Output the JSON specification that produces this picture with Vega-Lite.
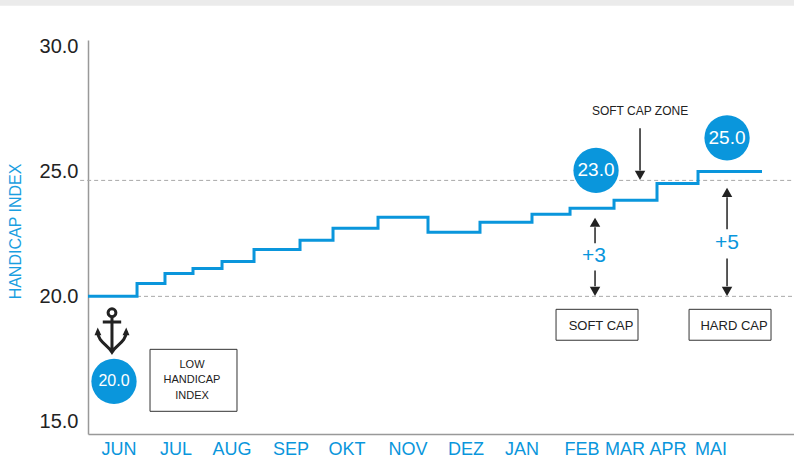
{"$schema":"https://vega.github.io/schema/vega-lite/v6.json","width":706,"height":394,"autosize":{"type":"none"},"padding":{"left":88,"top":40,"right":0,"bottom":26},"background":"white","config":{"view":{"stroke":null},"text":{"font":"Liberation Sans"}},
"datasets":{
"steps":[{"t":0,"v":20},{"t":0.875,"v":20.52},{"t":1.374,"v":20.92},{"t":1.874,"v":21.12},{"t":2.392,"v":21.4},{"t":2.963,"v":21.88},{"t":3.784,"v":22.25},{"t":4.373,"v":22.73},{"t":5.176,"v":23.17},{"t":6.068,"v":22.57},{"t":6.996,"v":22.97},{"t":7.924,"v":23.29},{"t":8.603,"v":23.53},{"t":9.388,"v":23.85},{"t":10.155,"v":24.53},{"t":10.887,"v":25.01},{"t":12.029,"v":25.01}],
"months":[{"t":0.553,"v":13.83,"m":"JUN"},{"t":1.571,"v":13.83,"m":"JUL"},{"t":2.57,"v":13.83,"m":"AUG"},{"t":3.623,"v":13.83,"m":"SEP"},{"t":4.622,"v":13.83,"m":"OKT"},{"t":5.711,"v":13.83,"m":"NOV"},{"t":6.746,"v":13.83,"m":"DEZ"},{"t":7.746,"v":13.83,"m":"JAN"},{"t":8.817,"v":13.83,"m":"FEB"},{"t":9.584,"v":13.83,"m":"MAR"},{"t":10.352,"v":13.83,"m":"APR"},{"t":11.119,"v":13.83,"m":"MAI"}],
"boxes":[{"a":1.107,"b":2.659,"lo":15.39,"hi":17.875},{"a":8.353,"b":9.816,"lo":18.24,"hi":19.48},{"a":10.727,"b":12.19,"lo":18.24,"hi":19.48}],
"badges":[{"t":0.464,"v":16.59,"s":"20.0"},{"t":9.067,"v":25.05,"s":"23.0"},{"t":11.405,"v":26.355,"s":"25.0"}],
"deltas":[{"t":9.03,"v":21.6,"s":"+3"},{"t":11.405,"v":22.125,"s":"+5"}],
"stems":[{"t":9.852,"a":26.74,"b":25.05},{"t":9.049,"a":22.125,"b":22.77},{"t":9.049,"a":21.04,"b":20.4},{"t":11.405,"a":22.69,"b":23.97},{"t":11.405,"a":21.52,"b":20.4}],
"heads":[{"t":9.852,"v":24.85,"d":"down"},{"t":9.049,"v":22.97,"d":"up"},{"t":9.049,"v":20.2,"d":"down"},{"t":11.405,"v":24.17,"d":"up"},{"t":11.405,"v":20.2,"d":"down"}]
},
"data":{"name":"steps"},
"encoding":{
"x":{"field":"t","type":"quantitative","scale":{"domain":[0,12.6],"nice":false,"zero":false},"axis":{"labels":false,"ticks":false,"grid":false,"title":null,"domainColor":"#999999","domainWidth":1.5}},
"y":{"field":"v","type":"quantitative","scale":{"domain":[14.48,30.28],"nice":false,"zero":false},"axis":{"values":[15,20,25,30],"format":".1f","ticks":false,"grid":false,"title":"HANDICAP INDEX","titleFont":"Liberation Sans","titleFontSize":16,"titleFontWeight":"normal","titleColor":"#1a9ee0","titleX":-65,"titleY":191,"labelFont":"Liberation Sans","labelFontSize":20,"labelColor":"#222222","labelPadding":10,"domainColor":"#999999","domainWidth":1.5}}
},
"layer":[
{"data":{"values":[{"a":-1.6,"b":12.6,"lo":31.65,"hi":31.95}]},"mark":{"type":"rect","fill":"#ebebeb"},"encoding":{"x":{"field":"a","type":"quantitative"},"x2":{"field":"b"},"y":{"field":"lo","type":"quantitative"},"y2":{"field":"hi"}}},
{"data":{"values":[{"v":24.65,"a":-0.14,"b":12.6},{"v":20,"a":0,"b":12.6}]},"mark":{"type":"rule","color":"#a8a8a8","strokeWidth":1,"strokeDash":[4,3]},"encoding":{"x":{"field":"a","type":"quantitative"},"x2":{"field":"b"},"y":{"field":"v","type":"quantitative"}}},
{"data":{"name":"boxes"},"mark":{"type":"rect","fill":"white","stroke":"#333333","strokeWidth":1},"encoding":{"x":{"field":"a","type":"quantitative"},"x2":{"field":"b"},"y":{"field":"lo","type":"quantitative"},"y2":{"field":"hi"}}},
{"mark":{"type":"line","interpolate":"step-after","color":"#0a96dc","strokeWidth":3}},
{"data":{"name":"badges"},"mark":{"type":"point","shape":"circle","filled":true,"color":"#0a96dc","opacity":1,"size":2050}},
{"data":{"name":"badges"},"transform":[{"filter":"datum.s === '20.0'"}],"mark":{"type":"text","color":"white","fontSize":16,"baseline":"middle","align":"center"},"encoding":{"text":{"field":"s"}}},
{"data":{"name":"badges"},"transform":[{"filter":"datum.s !== '20.0'"}],"mark":{"type":"text","color":"white","fontSize":19,"baseline":"middle","align":"center"},"encoding":{"text":{"field":"s"}}},
{"data":{"values":[{"t":1.856,"v":17.23,"s":"LOW"},{"t":1.856,"v":16.63,"s":"HANDICAP"},{"t":1.856,"v":15.99,"s":"INDEX"}]},"mark":{"type":"text","color":"#222222","fontSize":11,"baseline":"middle","align":"center"},"encoding":{"text":{"field":"s"}}},
{"data":{"values":[{"t":9.156,"v":18.8,"s":"SOFT CAP"},{"t":11.53,"v":18.8,"s":"HARD CAP"}]},"mark":{"type":"text","color":"#222222","fontSize":13,"baseline":"middle","align":"center"},"encoding":{"text":{"field":"s"}}},
{"data":{"values":[{"t":9.852,"v":27.42,"s":"SOFT CAP ZONE"}]},"mark":{"type":"text","color":"#222222","fontSize":12,"baseline":"middle","align":"center"},"encoding":{"text":{"field":"s"}}},
{"data":{"name":"deltas"},"mark":{"type":"text","color":"#0a96dc","fontSize":21,"baseline":"middle","align":"center"},"encoding":{"text":{"field":"s"}}},
{"data":{"name":"stems"},"mark":{"type":"rule","color":"#222222","strokeWidth":1.5},"encoding":{"x":{"field":"t","type":"quantitative"},"y":{"field":"a","type":"quantitative"},"y2":{"field":"b"}}},
{"data":{"name":"heads"},"mark":{"type":"point","filled":true,"color":"#222222","opacity":1,"size":110},"encoding":{"shape":{"field":"d","type":"nominal","scale":{"domain":["up","down"],"range":["triangle-up","triangle-down"]},"legend":null}}},
{"data":{"values":[{"t":0.428,"v":18.64}]},"mark":{"type":"point","filled":false,"color":"#222222","opacity":1,"strokeWidth":3,"size":2116,"shape":"M0.17,-0.76A0.17,0.17,0,1,1,-0.17,-0.76A0.17,0.17,0,1,1,0.17,-0.76M0,-0.59L0,0.95M-0.4,-0.36L0.4,-0.36M-0.62,0.05C-0.62,0.5,-0.2,0.62,0,0.95C0.2,0.62,0.62,0.5,0.62,0.05"}},
{"data":{"values":[{"t":0.428,"v":18.64}]},"mark":{"type":"point","filled":true,"color":"#222222","opacity":1,"size":2116,"shape":"M-0.76,0.22L-0.62,-0.12L-0.46,0.22ZM0.76,0.22L0.62,-0.12L0.46,0.22Z"}},
{"data":{"name":"months"},"mark":{"type":"text","color":"#0a96dc","fontSize":18,"baseline":"middle","align":"center"},"encoding":{"text":{"field":"m"}}}
]}
